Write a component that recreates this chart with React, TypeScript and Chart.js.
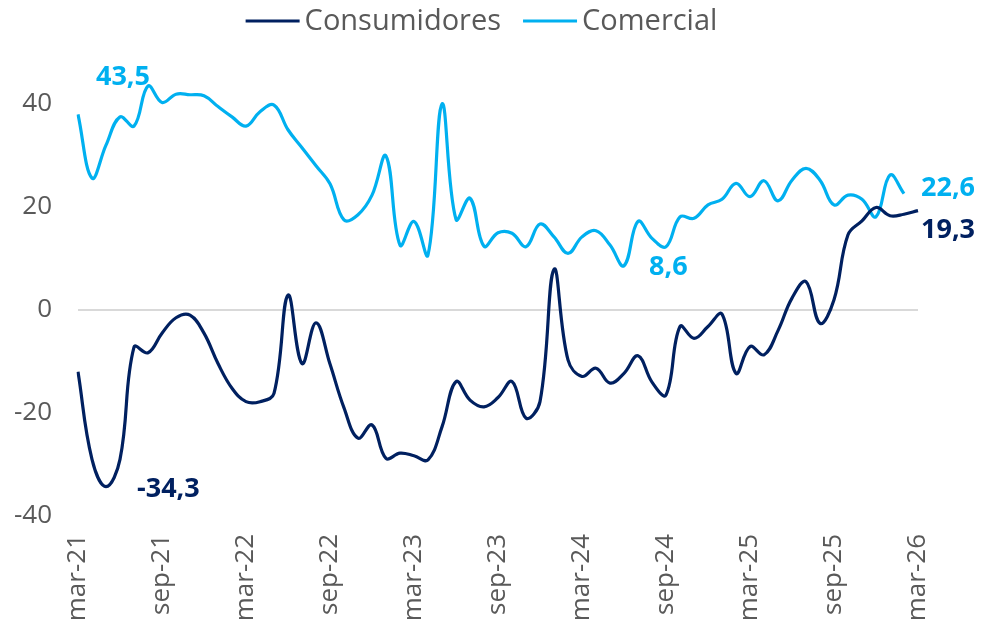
import React, { useEffect, useRef } from "react";
import { Chart, registerables } from "chart.js";

Chart.register(...registerables);

const categories: string[] = [
  "mar-21", "abr-21", "may-21", "jun-21", "jul-21", "ago-21", "sep-21", "oct-21", "nov-21", "dic-21",
  "ene-22", "feb-22", "mar-22", "abr-22", "may-22", "jun-22", "jul-22", "ago-22", "sep-22", "oct-22",
  "nov-22", "dic-22", "ene-23", "feb-23", "mar-23", "abr-23", "may-23", "jun-23", "jul-23", "ago-23",
  "sep-23", "oct-23", "nov-23", "dic-23", "ene-24", "feb-24", "mar-24", "abr-24", "may-24", "jun-24",
  "jul-24", "ago-24", "sep-24", "oct-24", "nov-24", "dic-24", "ene-25", "feb-25", "mar-25", "abr-25",
  "may-25", "jun-25", "jul-25", "ago-25", "sep-25", "oct-25", "nov-25", "dic-25", "ene-26", "feb-26",
  "mar-26",
];

const consumidores: number[] = [
  -12.0, -29.0, -34.3, -29.0, -7.2, -8.3, -4.5, -1.5, -1.0, -4.5,
  -10.4, -15.2, -17.8, -17.8, -16.2, 2.9, -10.4, -2.5, -10.5, -19.0,
  -24.9, -22.3, -28.8, -27.8, -28.3, -29.1, -22.7, -13.9, -17.5, -18.8,
  -17.0, -13.9, -21.0, -17.8, 7.9, -9.7, -12.9, -11.3, -14.2, -12.3,
  -8.9, -14.0, -16.5, -3.2, -5.5, -3.2, -0.8, -12.3, -7.1, -8.7,
  -4.0, 2.3, 5.5, -2.6, 2.0, 14.6, 17.3, 19.9, 18.3, 18.6,
  19.3,
];

const comercial: number[] = [
  38.0, 25.6, 32.0, 37.5, 35.7, 43.5, 40.3, 41.9, 41.8, 41.6,
  39.5, 37.5, 35.7, 38.5, 39.8, 35.0, 31.5, 28.0, 24.5, 17.5,
  18.5, 22.3, 29.9, 12.6, 17.2, 10.7, 40.0, 17.6, 21.7, 12.4,
  15.0, 14.9, 12.3, 16.7, 14.2, 11.0, 14.2, 15.4, 12.6, 8.6,
  17.2, 13.9, 12.3, 18.1, 17.8, 20.4, 21.5, 24.6, 22.0, 25.1,
  21.2, 25.2, 27.5, 25.2, 20.4, 22.3, 21.5, 18.1, 26.2, 22.6,
];

const seriesNames: string[] = ["Consumidores", "Comercial"];
const seriesColors: string[] = ["#002060", "#00B0F0"];

// [dataset index, point index, dx, dy, align]
const annotations: [number, number, number, number, CanvasTextAlign][] = [
  [1, 5, 2, -9, "right"],
  [0, 2, 31, 3, "left"],
  [1, 39, 25, 2, "left"],
  [1, 59, 17, -5, "left"],
  [0, 60, 3, 20, "left"],
];

const FONT = '"Open Sans", "DejaVu Sans", sans-serif';

const legendPlugin = {
  id: "customLegend",
  afterDraw(chart: any) {
    const ctx = chart.ctx;
    ctx.save();
    ctx.font = `29px ${FONT}`;
    const lineLen = 54;
    const gap = 5;
    const itemGap = 22;
    const widths = seriesNames.map((n) => ctx.measureText(n).width);
    const total = widths.reduce((a, w) => a + lineLen + gap + w, 0) + itemGap * (seriesNames.length - 1);
    let x = 481.5 - total / 2;
    const y = 21;
    seriesNames.forEach((name, i) => {
      ctx.strokeStyle = seriesColors[i];
      ctx.lineWidth = 3;
      ctx.beginPath();
      ctx.moveTo(x, y);
      ctx.lineTo(x + lineLen, y);
      ctx.stroke();
      x += lineLen + gap;
      ctx.fillStyle = "#595959";
      ctx.textBaseline = "middle";
      ctx.textAlign = "left";
      ctx.fillText(name, x, y + 1);
      x += widths[i] + itemGap;
    });
    ctx.restore();
  },
};

const labelPlugin = {
  id: "valueLabels",
  afterDatasetsDraw(chart: any) {
    const ctx = chart.ctx;
    ctx.save();
    ctx.font = `bold 27px ${FONT}`;
    ctx.textBaseline = "middle";
    annotations.forEach(([di, pi, dx, dy, align]) => {
      const meta = chart.getDatasetMeta(di);
      const pt = meta.data[pi];
      if (!pt) return;
      const v = (chart.data.datasets[di].data[pi] as number).toFixed(1).replace(".", ",");
      ctx.fillStyle = seriesColors[di];
      ctx.textAlign = align;
      ctx.fillText(v, pt.x + dx, pt.y + dy);
    });
    ctx.restore();
  },
};

export default function App() {
  const canvasRef = useRef<HTMLCanvasElement | null>(null);

  useEffect(() => {
    if (!canvasRef.current) return;
    const chart = new Chart(canvasRef.current, {
      type: "line",
      data: {
        labels: categories,
        datasets: [
          {
            label: seriesNames[0],
            data: consumidores,
            borderColor: seriesColors[0],
            backgroundColor: seriesColors[0],
            borderWidth: 3.2,
            pointRadius: 0,
            tension: 0.4,
            fill: false,
          },
          {
            label: seriesNames[1],
            data: comercial,
            borderColor: seriesColors[1],
            backgroundColor: seriesColors[1],
            borderWidth: 3.2,
            pointRadius: 0,
            tension: 0.4,
            fill: false,
          },
        ],
      },
      options: {
        responsive: false,
        animation: false,
        layout: { padding: { top: 52.5, right: 66, bottom: 0, left: 0 } },
        plugins: {
          legend: { display: false },
          tooltip: { enabled: false },
        },
        scales: {
          x: {
            type: "category",
            offset: false,
            grid: { display: false, drawTicks: false },
            border: { display: false },
            afterFit: (scale: any) => {
              scale.height = 114;
            },
            ticks: {
              autoSkip: false,
              maxRotation: 90,
              minRotation: 90,
              padding: 18,
              color: "#595959",
              font: { family: FONT, size: 26 },
              callback: (_v: any, index: number) => (index % 6 === 0 ? categories[index] : ""),
            },
          },
          y: {
            min: -40,
            max: 50,
            grid: {
              drawTicks: false,
              lineWidth: 2,
              color: (c: any) => (c.tick && c.tick.value === 0 ? "#D9D9D9" : "rgba(0,0,0,0)"),
            },
            border: { display: false },
            afterFit: (scale: any) => {
              scale.width = 78;
            },
            ticks: {
              stepSize: 20,
              padding: 26,
              color: "#595959",
              font: { family: FONT, size: 26 },
              callback: (v: any) => (v === 50 ? "" : String(v)),
            },
          },
        },
      },
      plugins: [legendPlugin, labelPlugin],
    });
    return () => chart.destroy();
  }, []);

  return (
    <div style={{ position: "fixed", left: 0, top: 0, width: 984, height: 630, background: "#fff" }}>
      <canvas ref={canvasRef} width={984} height={630} style={{ display: "block" }} />
    </div>
  );
}
